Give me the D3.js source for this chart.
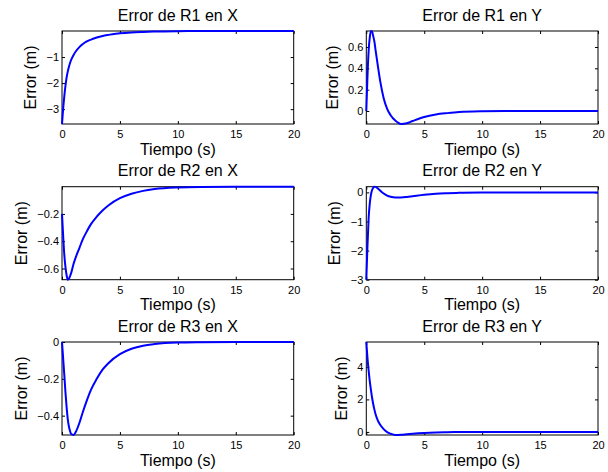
<!DOCTYPE html>
<html>
<head>
<meta charset="utf-8">
<script src="https://cdn.jsdelivr.net/npm/d3@7"></script>
<style>
  body { margin: 0; background: #fff; }
  svg { display: block; font-family: "Liberation Sans", Arial, Helvetica, sans-serif; }
</style>
</head>
<body>
<svg id="chart" width="608" height="472"></svg>
<script>
"use strict";

// Data //////////////////////////////
var tiempo = [0, 0.1, 0.2, 0.3, 0.4, 0.5, 0.6, 0.7, 0.8, 1.0, 1.2, 1.5, 1.8, 2.1, 2.5, 3.0, 3.5, 4.0, 5.0, 6.0, 7.0, 8.0, 10, 12, 15, 20];

var errR1x = [-3.57, -2.98, -2.5, -2.1, -1.78, -1.55, -1.37, -1.22, -1.1, -0.92, -0.78, -0.62, -0.5, -0.41, -0.33, -0.25, -0.19, -0.15, -0.09, -0.055, -0.035, -0.02, -0.007, -0.003, -0.002, -0.001];
var errR1y = [0, 0.32, 0.56, 0.69, 0.75, 0.745, 0.70, 0.65, 0.57, 0.42, 0.28, 0.12, 0.02, -0.04, -0.09, -0.122, -0.115, -0.094, -0.056, -0.033, -0.02, -0.01, -0.003, -0.001, 0, 0];
var errR2x = [-0.2, -0.36, -0.5, -0.59, -0.65, -0.682, -0.675, -0.655, -0.63, -0.565, -0.515, -0.45, -0.385, -0.335, -0.275, -0.22, -0.175, -0.138, -0.085, -0.052, -0.031, -0.018, -0.006, -0.002, -0.001, -0.0005];
var errR2y = [-3, -1.85, -0.9, -0.38, -0.08, 0.08, 0.16, 0.195, 0.19, 0.13, 0.06, -0.04, -0.11, -0.15, -0.175, -0.172, -0.155, -0.13, -0.08, -0.045, -0.027, -0.015, -0.005, -0.002, 0, 0];
var errR3x = [0, -0.09, -0.18, -0.275, -0.355, -0.42, -0.46, -0.485, -0.5, -0.505, -0.487, -0.44, -0.38, -0.325, -0.26, -0.2, -0.15, -0.115, -0.066, -0.037, -0.02, -0.011, -0.003, -0.001, 0, 0];
var errR3y = [5.53, 4.55, 3.78, 3.12, 2.58, 2.1, 1.7, 1.37, 1.09, 0.7, 0.44, 0.17, -0.01, -0.11, -0.19, -0.175, -0.14, -0.11, -0.065, -0.035, -0.018, -0.009, -0.002, 0, 0, 0];

var ticksX = [0, 5, 10, 15, 20];
var ticksR1x = [-3, -2, -1];
var ticksR1y = [0, 0.2, 0.4, 0.6];
var ticksR2x = [-0.6, -0.4, -0.2];
var ticksR2y = [-3, -2, -1, 0];
var ticksR3x = [-0.4, -0.2, 0];
var ticksR3y = [0, 2, 4];

var titulos = ["Error de R1 en X", "Error de R1 en Y", "Error de R2 en X", "Error de R2 en Y", "Error de R3 en X", "Error de R3 en Y"];
var etiquetaX = "Tiempo (s)";
var etiquetaY = "Error (m)";

var app = {

  // Layout //////////////////////////////////////////////
  colLeft: [62, 366.3],
  rowTop: [31, 186.7, 342],
  w: 231.7,
  h: 93,

  // One subplot /////////////////////////////////////////
  panel: function(svg, i, values, ticksY) {
  //////////////////////////////////////////////////////////

    var left = app.colLeft[i % 2],
        top = app.rowTop[Math.floor(i / 2)],
        w = app.w,
        h = app.h;

    var pts = tiempo.map(function(t, k) { return [t, values[k]]; });

    var x = d3.scaleLinear().domain([0, 20]).range([0, w]);
    var y = d3.scaleLinear().domain(d3.extent(values)).range([h, 0]);

    var fmt = function(d) { return d3.format("")(+d.toFixed(2)); };

    var g = svg.append("g").attr("transform", "translate(" + left + "," + top + ")");

    // Axes box
    g.append("rect")
        .attr("width", w)
        .attr("height", h)
        .attr("fill", "#fff")
        .attr("stroke", "#000")
        .attr("stroke-width", 1);

    // Bottom axis
    g.append("g")
        .attr("transform", "translate(0," + h + ")")
        .call(d3.axisBottom(x).tickValues(ticksX).tickSizeInner(-3).tickSizeOuter(0).tickPadding(6.5).tickFormat(fmt));

    // Top axis (ticks only)
    g.append("g")
        .call(d3.axisTop(x).tickValues(ticksX).tickSizeInner(-3).tickSizeOuter(0).tickFormat(""));

    // Left axis
    var gy = g.append("g")
        .call(d3.axisLeft(y).tickValues(ticksY).tickSizeInner(-3).tickSizeOuter(0).tickPadding(3).tickFormat(fmt));

    // Right axis (ticks only)
    g.append("g")
        .attr("transform", "translate(" + w + ",0)")
        .call(d3.axisRight(y).tickValues(ticksY).tickSizeInner(-3).tickSizeOuter(0).tickFormat(""));

    g.selectAll(".domain").remove();
    g.selectAll(".tick line").attr("stroke", "#000");
    g.selectAll(".tick text")
        .attr("fill", "#000")
        .style("font-size", "11px")
        .style("font-family", "'Liberation Sans', Arial, sans-serif");

    // Curve
    g.append("path")
        .datum(pts)
        .attr("fill", "none")
        .attr("stroke", "#0000ff")
        .attr("stroke-width", 2)
        .attr("stroke-linejoin", "round")
        .attr("d", d3.line()
            .x(function(d) { return x(d[0]); })
            .y(function(d) { return y(d[1]); })
            .curve(d3.curveMonotoneX));

    // Title
    g.append("text")
        .attr("x", w / 2)
        .attr("y", -10.3)
        .attr("text-anchor", "middle")
        .style("font-size", "16px")
        .text(titulos[i]);

    // X label
    g.append("text")
        .attr("x", w / 2)
        .attr("y", h + 30.5)
        .attr("text-anchor", "middle")
        .style("font-size", "16px")
        .text(etiquetaX);

    // Y label, placed left of the widest tick label
    var minX = gy.node().getBBox().x;
    g.append("text")
        .attr("transform", "translate(" + (minX - 10.5) + "," + (h / 2) + ") rotate(-90)")
        .attr("text-anchor", "middle")
        .style("font-size", "16px")
        .text(etiquetaY);
  },

  //////////////////////////////////////////////////////////
  runApp: function() {
  //////////////////////////////////////////////////////////
    var svg = d3.select("#chart");
    app.panel(svg, 0, errR1x, ticksR1x);
    app.panel(svg, 1, errR1y, ticksR1y);
    app.panel(svg, 2, errR2x, ticksR2x);
    app.panel(svg, 3, errR2y, ticksR2y);
    app.panel(svg, 4, errR3x, ticksR3x);
    app.panel(svg, 5, errR3y, ticksR3y);
  }

};

app.runApp();
</script>
</body>
</html>
